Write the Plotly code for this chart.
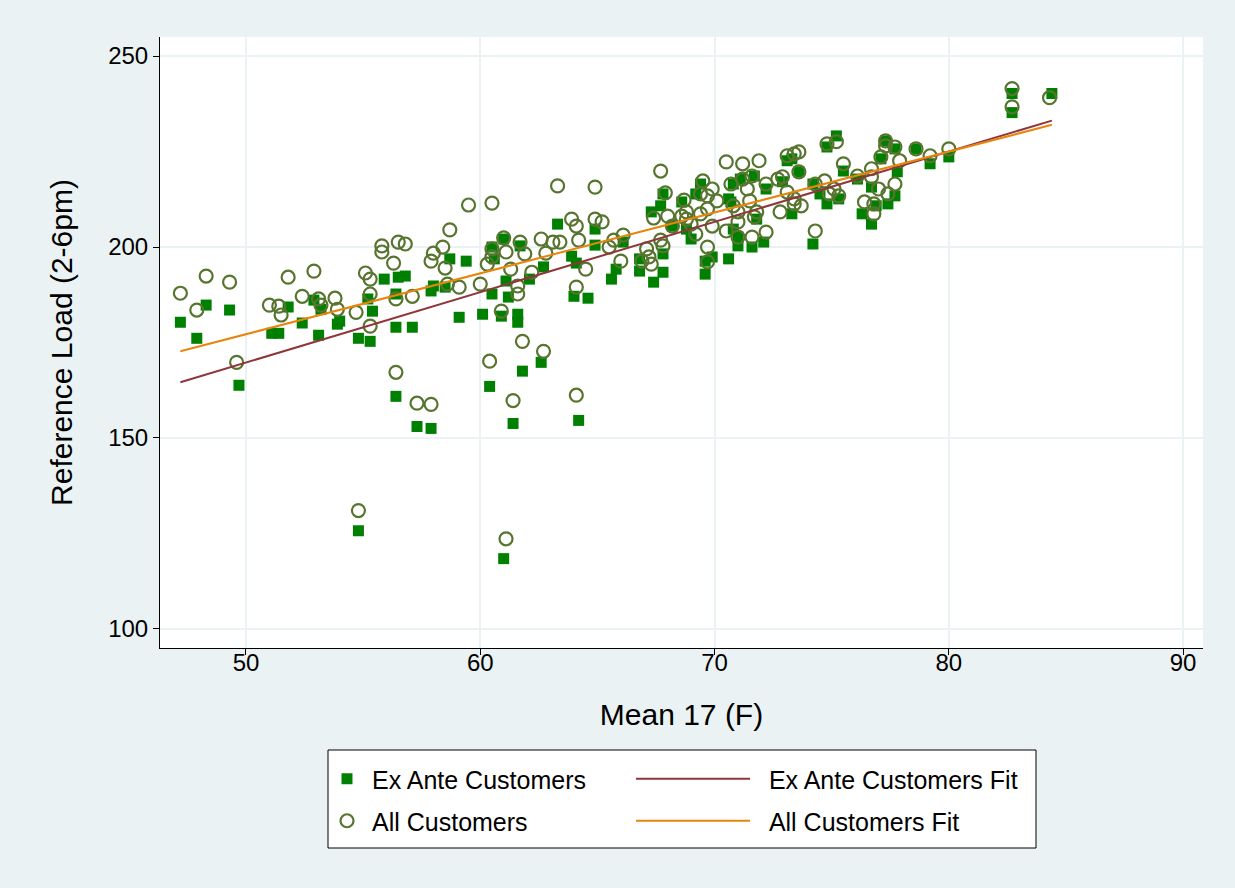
import plotly.graph_objects as go

# Ex ante customers: daily mean temperature (F) vs. reference load (2-6pm)
exante_x = [47.2, 47.9, 48.3, 49.3, 49.7, 51.1, 51.4, 51.8, 52.4, 52.9, 53.1, 53.2, 53.9, 54.0,
            54.8, 54.8, 55.2, 55.3, 55.4, 55.9, 56.4, 56.4, 56.5, 56.8, 57.1, 56.4, 57.3, 57.9,
            57.9, 58.0, 58.5, 58.7, 59.1, 59.4, 60.1, 60.5, 60.5, 61.0, 60.9, 61.2, 61.1, 61.6,
            61.6, 61.7, 62.1, 62.7, 63.3, 60.4, 61.4, 61.8, 62.6, 64.2, 61.0, 60.6, 63.9, 64.1,
            64.9, 64.9, 64.0, 64.6, 65.6, 65.8, 66.1, 66.8, 67.4, 67.8, 67.3, 67.7, 67.8, 67.8,
            68.6, 69.0, 69.2, 69.4, 69.6, 69.9, 70.6, 70.8, 71.0, 70.7, 66.8, 68.2, 68.8, 69.6,
            70.6, 70.8, 71.0, 71.1, 71.6, 71.7, 71.8, 72.2, 72.1, 72.9, 73.1, 73.3, 73.3, 73.6,
            74.2, 74.8, 74.8, 75.2, 74.2, 75.5, 76.1, 75.3, 74.5, 76.7, 77.1, 77.3, 77.7, 77.8,
            77.7, 77.4, 76.3, 76.7, 76.9, 78.6, 79.2, 80.0, 82.7, 82.7, 84.4]
exante_y = [180.3, 176.1, 184.8, 183.5, 163.8, 177.4, 177.4, 184.3, 180.1, 186.1, 176.9, 183.7,
            179.8, 180.6, 176.1, 125.7, 186.4, 175.3, 183.2, 191.6, 187.7, 179.0, 192.1, 192.4,
            179.0, 160.9, 153.0, 152.5, 188.5, 189.8, 189.5, 196.9, 181.6, 196.3, 182.4, 187.7,
            200.0, 202.1, 181.9, 186.9, 191.1, 182.4, 180.3, 200.3, 191.6, 194.8, 206.0, 163.5,
            153.8, 167.5, 169.8, 154.6, 118.4, 196.9, 197.6, 195.8, 204.7, 200.5, 187.1, 186.6,
            191.6, 194.2, 201.3, 193.7, 190.8, 193.4, 209.2, 210.8, 213.9, 198.2, 211.8, 202.1,
            213.9, 216.5, 192.9, 197.4, 196.9, 216.5, 200.3, 211.8, 196.9, 205.5, 204.7, 196.3,
            212.6, 204.7, 202.6, 217.8, 200.0, 218.6, 207.3, 215.2, 201.3, 217.1, 222.6, 208.7,
            223.1, 219.7, 200.8, 226.2, 211.3, 229.1, 216.5, 219.9, 217.8, 212.6, 213.9, 215.7,
            223.1, 227.8, 225.7, 219.7, 213.4, 211.3, 208.7, 206.0, 210.8, 225.7, 221.8, 223.6,
            240.2, 235.2, 240.2]

# All customers
all_x = [47.2, 47.9, 48.3, 49.3, 49.6, 51.0, 51.4, 51.5, 51.8, 52.4, 52.9, 53.1, 53.2, 53.8,
         53.9, 54.7, 55.1, 55.3, 55.3, 55.3, 54.8, 55.8, 55.8, 56.3, 56.4, 56.5, 56.8, 57.1,
         56.4, 57.3, 57.9, 57.9, 58.0, 58.4, 58.5, 58.6, 58.7, 59.1, 59.5, 60.0, 60.3, 60.5,
         60.5, 60.5, 60.9, 61.0, 61.1, 61.3, 61.6, 61.6, 61.7, 61.8, 61.9, 62.2, 62.6, 62.7,
         62.8, 63.1, 63.3, 60.4, 61.4, 61.1, 63.4, 63.9, 64.1, 64.2, 64.5, 64.1, 64.9, 64.9,
         65.2, 65.5, 65.7, 66.0, 66.1, 66.9, 67.1, 67.2, 67.3, 67.4, 67.7, 67.8, 67.7, 67.9,
         68.0, 68.2, 68.6, 68.7, 68.8, 69.0, 69.2, 69.4, 69.5, 69.7, 69.9, 69.9, 70.1, 69.7,
         69.7, 70.5, 70.7, 71.0, 71.0, 64.1, 68.8, 69.4, 69.7, 70.5, 70.8, 71.0, 71.2, 71.2,
         71.4, 71.5, 71.6, 71.6, 71.8, 71.9, 72.2, 72.2, 71.7, 72.7, 72.9, 72.8, 73.1, 73.1,
         73.4, 73.6, 73.4, 73.4, 73.6, 74.3, 74.3, 74.7, 74.8, 74.9, 75.2, 75.1, 75.5, 76.1,
         76.7, 76.7, 76.4, 76.8, 76.8, 77.0, 77.1, 77.3, 77.3, 77.4, 77.7, 77.7, 77.9, 75.3,
         78.6, 79.2, 80.0, 73.7, 82.7, 82.7, 84.3]
all_y = [187.9, 183.5, 192.4, 190.8, 169.8, 184.8, 184.5, 182.2, 192.1, 187.1, 193.7, 186.4,
         184.8, 186.6, 183.7, 182.9, 193.2, 191.6, 187.7, 179.3, 131.0, 200.3, 198.7, 195.8,
         186.4, 201.3, 200.8, 187.1, 167.2, 159.1, 158.8, 196.3, 198.4, 200.0, 194.5, 190.3,
         204.5, 189.5, 211.0, 190.3, 195.5, 199.5, 197.4, 211.5, 183.2, 202.4, 198.7, 194.2,
         189.8, 187.7, 201.3, 175.3, 198.2, 193.4, 202.1, 172.7, 198.4, 201.3, 216.0, 170.1,
         159.8, 123.6, 201.3, 207.3, 205.5, 201.8, 194.2, 189.5, 215.7, 207.3, 206.6, 200.0,
         201.8, 196.3, 203.1, 196.3, 199.5, 197.4, 195.5, 207.6, 201.8, 200.3, 219.9, 214.2,
         208.1, 205.5, 208.1, 212.3, 209.2, 206.0, 203.4, 213.9, 217.3, 213.4, 215.2, 205.5,
         212.1, 200.0, 196.1, 204.2, 216.5, 209.2, 202.6, 161.2, 207.3, 208.7, 210.0, 222.3,
         210.8, 206.6, 221.8, 217.8, 215.2, 212.1, 202.6, 218.6, 209.2, 222.6, 216.5, 203.9,
         207.9, 217.8, 218.4, 209.2, 214.4, 223.9, 224.4, 224.9, 212.6, 211.3, 219.7, 216.5,
         204.2, 217.3, 227.0, 213.9, 227.6, 215.2, 221.8, 218.6, 220.5, 218.4, 211.8, 211.3,
         208.7, 215.2, 223.6, 227.8, 226.5, 213.9, 226.2, 216.5, 222.6, 213.4, 225.7, 223.9,
         225.7, 210.8, 241.5, 236.7, 239.1]

# Linear fit lines (endpoints over the observed temperature range)
fit_x = [47.2, 84.4]
exante_fit = [164.6, 233.1]
all_fit = [172.7, 232.0]

FONT = "Liberation Sans, Arial, sans-serif"
BG = "#EAF2F3"
SQ_GREEN = "#008000"
CIRCLE_GREEN = "#587530"
MAROON = "#90353B"
ORANGE = "#E8850E"
GAP = "\u00a0\u00a0"  # extra room between a fit-line key and its label

fig = go.Figure()

fig.add_trace(go.Scatter(
    x=exante_x, y=exante_y, mode="markers", name="Ex Ante Customers",
    marker=dict(symbol="square", size=11, color=SQ_GREEN, line=dict(width=0)),
    legend="legend"))
fig.add_trace(go.Scatter(
    x=all_x, y=all_y, mode="markers", name="All Customers",
    marker=dict(symbol="circle-open", size=13, color=CIRCLE_GREEN,
                line=dict(width=2.2, color=CIRCLE_GREEN)),
    legend="legend2"))
fig.add_trace(go.Scatter(
    x=fit_x, y=exante_fit, mode="lines", name=GAP + "Ex Ante Customers Fit",
    line=dict(color=MAROON, width=2), legend="legend3"))
fig.add_trace(go.Scatter(
    x=fit_x, y=all_fit, mode="lines", name=GAP + "All Customers Fit",
    line=dict(color=ORANGE, width=2), legend="legend4"))

# plot area spans 160..1203 px horizontally and 37..648 px vertically
W, H = 1235, 888
L, R, T, B = 160, 32, 37, 240
pw, ph = W - L - R, H - T - B


def px(xp):
    return (xp - L) / pw


def py(yp):
    return (H - B - yp) / ph


legend_common = dict(font=dict(family=FONT, size=25, color="black"),
                     bgcolor="rgba(0,0,0,0)", borderwidth=0,
                     xanchor="left", yanchor="middle", orientation="v")

fig.update_layout(
    width=W, height=H,
    margin=dict(l=L, r=R, t=T, b=B),
    paper_bgcolor=BG, plot_bgcolor="white",
    font=dict(family=FONT, color="black"),
    showlegend=True,
    legend=dict(x=px(322), y=py(779), itemwidth=40, **legend_common),
    legend2=dict(x=px(322), y=py(821), itemwidth=40, **legend_common),
    legend3=dict(x=px(631), y=py(779), itemwidth=114, **legend_common),
    legend4=dict(x=px(631), y=py(821), itemwidth=114, **legend_common),
    shapes=[dict(type="rect", xref="paper", yref="paper",
                 x0=px(328), x1=px(1036), y0=py(848), y1=py(750),
                 fillcolor="white", line=dict(color="black", width=1), layer="below")],
)

fig.update_xaxes(
    range=[46.33, 90.85], tickvals=[50, 60, 70, 80, 90],
    showgrid=True, gridcolor=BG, gridwidth=2, zeroline=False,
    showline=True, linecolor="black", linewidth=1,
    ticks="outside", ticklen=6, tickcolor="black",
    ticklabelstandoff=-13,
    tickfont=dict(family=FONT, size=24, color="black"),
    title=dict(text="Mean 17 (F)", font=dict(family=FONT, size=30, color="black"), standoff=29),
    automargin=False)
fig.update_yaxes(
    range=[95.0, 255.0], tickvals=[100, 150, 200, 250],
    showgrid=True, gridcolor=BG, gridwidth=2, zeroline=False,
    showline=True, linecolor="black", linewidth=1,
    ticks="outside", ticklen=6, tickcolor="black",
    tickfont=dict(family=FONT, size=24, color="black"),
    title=dict(text="Reference Load (2-6pm)", font=dict(family=FONT, size=30, color="black"),
               standoff=26),
    automargin=False)

fig.write_html("out.html")
